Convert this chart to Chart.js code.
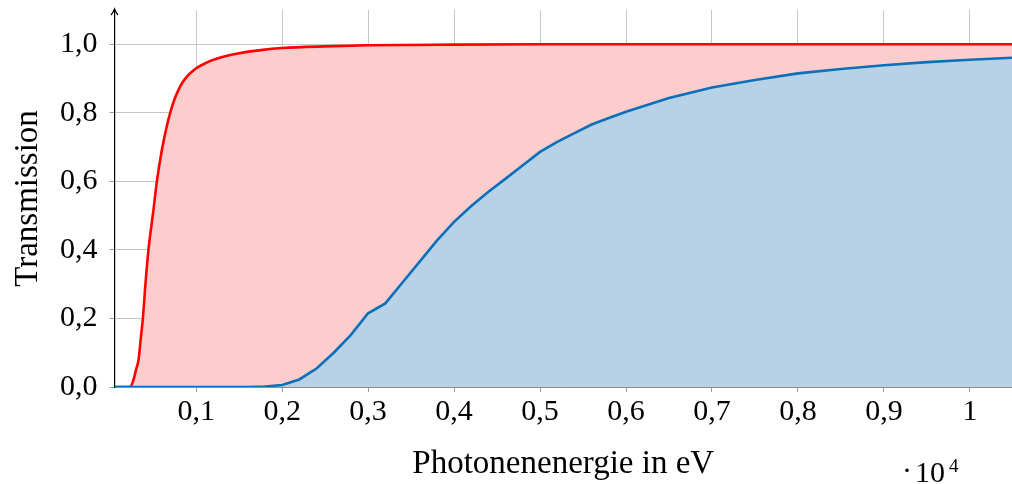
<!DOCTYPE html>
<html>
<head>
<meta charset="utf-8">
<script src="https://cdn.jsdelivr.net/npm/chart.js@4/dist/chart.umd.min.js"></script>
<style>
  html, body { margin: 0; padding: 0; background: #fff; }
  #wrap { width: 1012px; height: 484px; }
</style>
</head>
<body>
<div id="wrap"><canvas id="transChart" width="1012" height="484"></canvas></div>
<script>
// Transmission vs Photonenenergie (eV)
const redEnergy = [50, 200, 230, 270, 300, 330, 355, 380, 410, 445, 500, 543, 600, 650, 698, 750, 800, 850, 900, 950, 1000, 1100, 1200, 1350, 1500, 1750, 2000, 2500, 3000, 4000, 5000, 6000, 8000, 10500];
const redTrans  = [0, 0, 0, 0.02, 0.05, 0.08, 0.14, 0.2, 0.3, 0.4, 0.51, 0.6, 0.69, 0.752, 0.8, 0.841, 0.87, 0.892, 0.908, 0.92, 0.93, 0.944, 0.955, 0.966, 0.974, 0.983, 0.989, 0.994, 0.997, 0.999, 1.0, 1.0, 1.0, 1.0];

const blueEnergy = [50, 1000, 1600, 1800, 2000, 2200, 2400, 2600, 2800, 3000, 3200, 3400, 3600, 3800, 4000, 4200, 4400, 4600, 4800, 5000, 5200, 5400, 5600, 5800, 6000, 6500, 7000, 7500, 8000, 8500, 9000, 9500, 10000, 10500];
const blueTrans  = [0, 0, 0, 0.001, 0.006, 0.022, 0.054, 0.1, 0.152, 0.215, 0.244, 0.305, 0.366, 0.427, 0.482, 0.528, 0.57, 0.608, 0.647, 0.686, 0.715, 0.741, 0.766, 0.785, 0.803, 0.843, 0.874, 0.896, 0.915, 0.928, 0.939, 0.948, 0.955, 0.961];

const xTickValues = [1000, 2000, 3000, 4000, 5000, 6000, 7000, 8000, 9000, 10000];
const xTickLabels = ['0,1', '0,2', '0,3', '0,4', '0,5', '0,6', '0,7', '0,8', '0,9', '1'];
const yTickValues = [0, 0.2, 0.4, 0.6, 0.8, 1.0];
const yTickLabels = ['0,0', '0,2', '0,4', '0,6', '0,8', '1,0'];

const FONT = "'Liberation Serif', 'DejaVu Serif', serif";

function pts(xs, ys){ return xs.map((x, i) => ({ x: x, y: ys[i] })); }

// arrow on y axis + "·10^4" multiplier
const extrasPlugin = {
  id: 'extras',
  afterDraw(chart){
    const ctx = chart.ctx;
    const xs = chart.scales.x, ys = chart.scales.y;
    const ax = xs.left, top = ys.top;
    ctx.save();
    ctx.strokeStyle = '#000';
    ctx.lineWidth = 1.2;
    ctx.beginPath();
    ctx.moveTo(ax - 3.5, top + 5);
    ctx.quadraticCurveTo(ax - 1, top + 2, ax, top - 1);
    ctx.quadraticCurveTo(ax + 1, top + 2, ax + 3.5, top + 5);
    ctx.stroke();
    ctx.fillStyle = '#000';
    ctx.textBaseline = 'alphabetic';
    ctx.textAlign = 'left';
    ctx.font = '30px ' + FONT;
    ctx.fillText('\u00b7', 902, 480);
    ctx.fillText('10', 915, 482);
    ctx.font = '19px ' + FONT;
    ctx.fillText('4', 949, 472);
    ctx.restore();
  }
};

new Chart(document.getElementById('transChart'), {
  type: 'line',
  data: {
    datasets: [
      {
        label: 'blau',
        data: pts(blueEnergy, blueTrans),
        borderColor: '#0b6fba',
        backgroundColor: '#b7d2e6',
        borderWidth: 2.6,
        pointRadius: 0,
        tension: 0,
        fill: 'origin'
      },
      {
        label: 'rot',
        data: pts(redEnergy, redTrans),
        borderColor: '#ff0000',
        backgroundColor: '#fdcdcd',
        borderWidth: 2.6,
        pointRadius: 0,
        cubicInterpolationMode: 'monotone',
        fill: 'origin'
      }
    ]
  },
  options: {
    responsive: false,
    devicePixelRatio: 1,
    animation: false,
    layout: { padding: { top: 10, right: 0, left: 0, bottom: 0 } },
    plugins: { legend: { display: false }, tooltip: { enabled: false } },
    scales: {
      x: {
        type: 'linear',
        min: 50,
        max: 10490,
        z: 1,
        afterBuildTicks: s => { s.ticks = xTickValues.map(v => ({ value: v })); },
        afterFit: s => { s.height = 97; s.paddingLeft = 0; s.paddingRight = 0; },
        ticks: {
          color: '#000',
          font: { family: FONT, size: 30 },
          padding: 2,
          maxRotation: 0,
          callback: (v) => xTickLabels[xTickValues.indexOf(v)]
        },
        grid: { color: '#c6c6c6', lineWidth: 1, tickLength: 5, tickColor: '#999' },
        border: { color: '#555', width: 1.4 },
        title: {
          display: true,
          text: 'Photonenenergie in eV',
          color: '#000',
          font: { family: FONT, size: 33 },
          padding: { top: 0, bottom: 0 }
        }
      },
      y: {
        type: 'linear',
        min: 0,
        max: 1.1,
        z: 1,
        afterBuildTicks: s => { s.ticks = yTickValues.map(v => ({ value: v })); },
        afterFit: s => { s.width = 114.5; s.paddingTop = 0; s.paddingBottom = 0; },
        ticks: {
          color: '#000',
          font: { family: FONT, size: 30 },
          padding: 12,
          callback: (v) => yTickLabels[yTickValues.findIndex(t => Math.abs(t - v) < 1e-9)]
        },
        grid: { color: '#c6c6c6', lineWidth: 1, tickLength: 5, tickColor: '#999' },
        border: { color: '#000', width: 1.2 },
        title: {
          display: true,
          text: 'Transmission',
          color: '#000',
          font: { family: FONT, size: 33 },
          padding: { top: 9, bottom: 0 }
        }
      }
    }
  },
  plugins: [extrasPlugin]
});
</script>
</body>
</html>
